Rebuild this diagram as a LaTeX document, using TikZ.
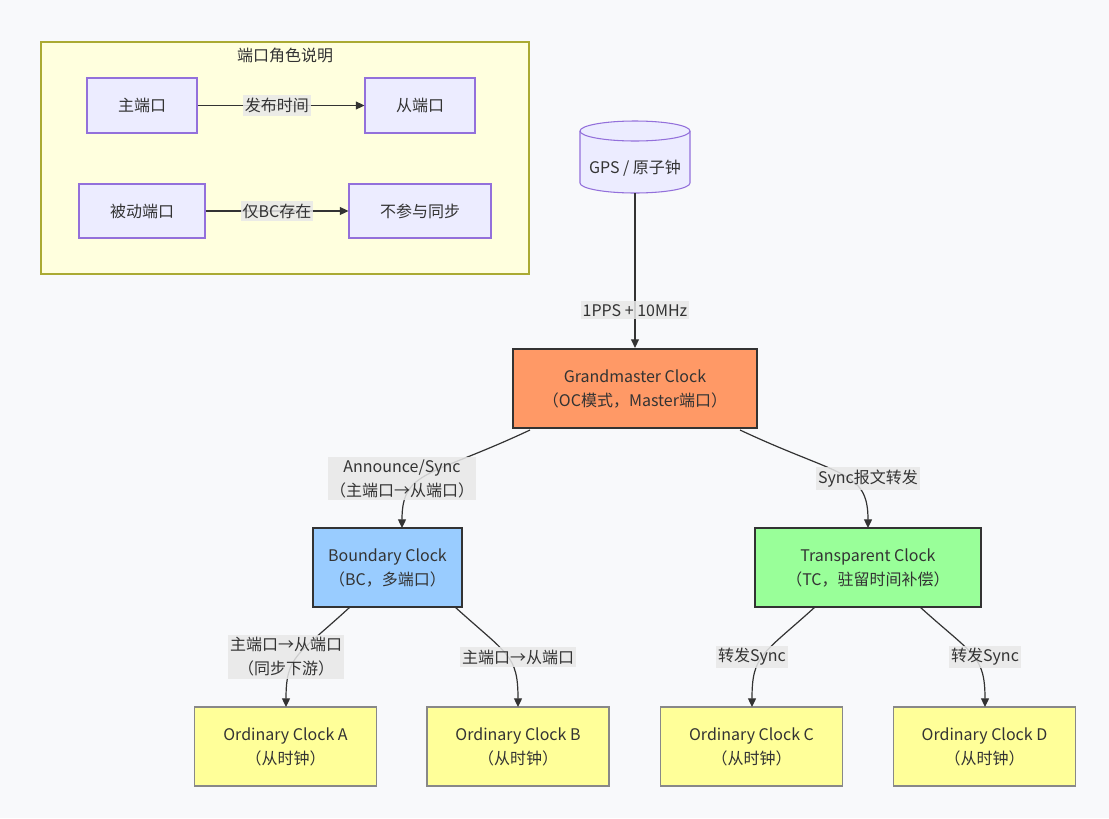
\documentclass[tikz,border=0pt]{standalone}
\usepackage{fontspec}
\setmainfont{Noto Sans CJK SC}
\usetikzlibrary{arrows.meta}
\definecolor{bgc}{HTML}{F8F9FB}
\definecolor{txt}{HTML}{333333}
\definecolor{legfill}{HTML}{FFFFDE}
\definecolor{legdraw}{HTML}{AAAA33}
\definecolor{pfill}{HTML}{ECECFF}
\definecolor{pdraw}{HTML}{9370DB}
\definecolor{gmfill}{HTML}{FF9966}
\definecolor{bcfill}{HTML}{99CCFF}
\definecolor{tcfill}{HTML}{99FF99}
\definecolor{ocfill}{HTML}{FFFF99}
\definecolor{ocdraw}{HTML}{888888}
\definecolor{lblbg}{HTML}{E8E8E8}
\begin{document}
\begin{tikzpicture}[x=0.75pt,y=-0.75pt,
  font=\fontsize{12}{18}\selectfont,
  box/.style={draw, rectangle, align=center, text=txt, inner sep=0pt},
  pbox/.style={box, fill=pfill, draw=pdraw, line width=0.8pt},
  clk/.style={box, draw=txt, line width=0.8pt, minimum height=59.25pt},
  ocbox/.style={box, fill=ocfill, draw=ocdraw, line width=1pt, minimum width=136.5pt, minimum height=59.25pt},
  lbl/.style={fill=lblbg, fill opacity=0.85, text opacity=1, text=txt, inner xsep=1.5pt, inner ysep=2pt, align=center},
  conn/.style={draw=txt, line width=0.9pt, -{Triangle[length=6.5pt,width=6pt]}},
  plain/.style={text=txt, inner sep=0pt}
]
\useasboundingbox (0,0) rectangle (1109,818);
\fill[bgc] (0,0) rectangle (1109,818);

% legend
\node[draw=legdraw, fill=legfill, line width=0.8pt, minimum width=366pt, minimum height=174pt, inner sep=0pt] (legend) at (285,158) {};
\node[plain] (legtitle) at (285,55) {端口角色说明};
\node[pbox, minimum width=82.5pt, minimum height=41.25pt] (master) at (142,105.5) {主端口};
\node[pbox, minimum width=82.5pt, minimum height=41.25pt] (slave) at (420,105.5) {从端口};
\node[pbox, minimum width=94.5pt, minimum height=40.5pt] (passive) at (142,211) {被动端口};
\node[pbox, minimum width=106.5pt, minimum height=40.5pt] (nosync) at (420,211) {不参与同步};
\draw[conn] (master) -- node[lbl, pos=0.475] {发布时间} (slave);
\draw[conn] (passive) -- node[lbl, pos=0.5] {仅BC存在} (nosync);

% GPS cylinder
\filldraw[fill=pfill, draw=pdraw, line width=0.8pt]
  (580,131) -- (580,183) arc[start angle=180, end angle=360, x radius=41.25pt, y radius=7.5pt]
  -- (690,131) arc[start angle=0, end angle=180, x radius=41.25pt, y radius=7.5pt] -- cycle;
\draw[draw=pdraw, line width=0.8pt] (580,131) arc[start angle=180, end angle=360, x radius=41.25pt, y radius=7.5pt];
\node[minimum width=82.5pt, minimum height=54pt, inner sep=0pt] (gps) at (635,157) {};
\node[plain] (gpstext) at (635,168) {GPS / 原子钟};

% clocks
\node[clk, fill=gmfill, line width=1.6pt, minimum width=183pt] (gm) at (635,388.5) {Grandmaster Clock\\（OC模式，Master端口）};
\node[clk, fill=bcfill, minimum width=111.75pt] (bc) at (387.5,567.5) {Boundary Clock\\（BC，多端口）};
\node[clk, fill=tcfill, minimum width=169.5pt] (tc) at (868,567.5) {Transparent Clock\\（TC，驻留时间补偿）};
\node[ocbox] (oca) at (285.5,746.5) {Ordinary Clock A\\（从时钟）};
\node[ocbox] (ocb) at (518,746.5) {Ordinary Clock B\\（从时钟）};
\node[ocbox] (occ) at (751.5,746.5) {Ordinary Clock C\\（从时钟）};
\node[ocbox] (ocd) at (984.5,746.5) {Ordinary Clock D\\（从时钟）};

% connectors
\draw[conn] (gps.south) -- node[lbl, pos=0.756] {1PPS + 10MHz} (gm.north);

\coordinate (gmL) at (530,430);
\coordinate (gmR) at (740,430);
\coordinate (bcT) at (402,528);
\coordinate (tcT) at (868,528);
\draw[conn] (gmL) .. controls (430,477) and (402,470) .. (bcT);
\draw[conn] (gmR) .. controls (840,477) and (868,470) .. (tcT);
\node[lbl] (l1) at (402,478.5) {Announce/Sync\\（主端口→从端口）};
\node[lbl] (l2) at (868,478.5) {Sync报文转发};

\coordinate (bcL) at (350,607);
\coordinate (bcR) at (455,607);
\coordinate (tcL) at (815,607);
\coordinate (tcR) at (920,607);
\coordinate (aT) at (286,707);
\coordinate (bT) at (518,707);
\coordinate (cT) at (752,707);
\coordinate (dT) at (985,707);
\draw[conn] (bcL) .. controls (298,655) and (286,655) .. (aT);
\draw[conn] (bcR) .. controls (508,655) and (518,655) .. (bT);
\draw[conn] (tcL) .. controls (762,655) and (752,655) .. (cT);
\draw[conn] (tcR) .. controls (973,655) and (985,655) .. (dT);
\node[lbl] (l3) at (286,657) {主端口→从端口\\（同步下游）};
\node[lbl] (l4) at (518,657) {主端口→从端口};
\node[lbl] (l5) at (752,657) {转发Sync};
\node[lbl] (l6) at (985,657) {转发Sync};
\end{tikzpicture}
\end{document}
